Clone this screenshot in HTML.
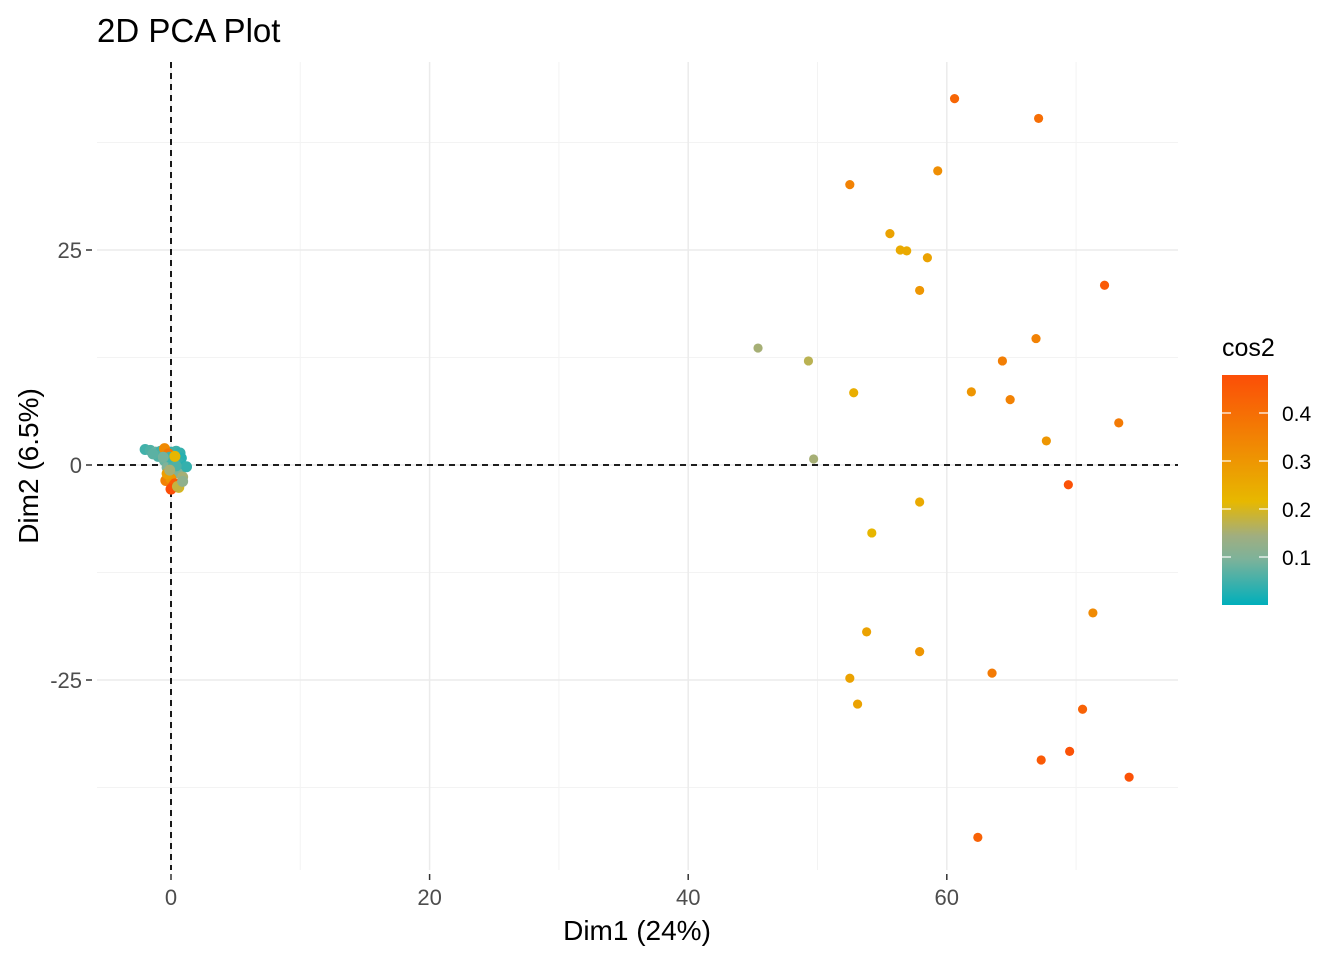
<!DOCTYPE html>
<html><head><meta charset="utf-8"><style>
body{margin:0;background:#fff;font-family:"Liberation Sans",sans-serif}
</style></head><body>
<svg id="chart" width="1344" height="960" xmlns="http://www.w3.org/2000/svg" font-family="Liberation Sans, sans-serif">
<defs><linearGradient id="cg" x1="0" y1="1" x2="0" y2="0">
<stop offset="0" stop-color="#00AFBB"/><stop offset="0.2" stop-color="#7db29a"/><stop offset="0.3" stop-color="#a0ae80"/><stop offset="0.45" stop-color="#E7B800"/><stop offset="1" stop-color="#FC4E07"/></linearGradient></defs>
<text x="97" y="42" font-size="33" fill="#000">2D PCA Plot</text>
<g id="grid"></g>
<g id="marks"></g>
<text x="637" y="940" font-size="28" text-anchor="middle">Dim1 (24%)</text>
<text transform="translate(38,466) rotate(-90)" font-size="28" text-anchor="middle">Dim2 (6.5%)</text>
<g>
<text x="1222" y="356" font-size="25">cos2</text>
<rect x="1222" y="375" width="46" height="230" fill="url(#cg)"/>
<g id="legticks"></g>
</g>
</svg>
<script>
const xTicks=[0,20,40,60];
const yTicks=[-25,0,25];
const legTicks=[0.1,0.2,0.3,0.4];
const farX=[60.6,67.1,59.3,52.5,55.6,56.4,56.9,58.5,57.9,72.2,45.4,49.3,66.9,64.3,52.8,61.9,64.9,73.3,67.7,49.7,69.4,57.9,54.2,71.3,53.8,57.9,63.5,52.5,53.1,70.5,69.5,67.3,74.1,62.4];
const farY=[42.6,40.3,34.2,32.6,26.9,25.0,24.9,24.1,20.3,20.9,13.6,12.1,14.7,12.1,8.4,8.5,7.6,4.9,2.8,0.7,-2.3,-4.3,-7.9,-17.2,-19.4,-21.7,-24.2,-24.8,-27.8,-28.4,-33.3,-34.3,-36.3,-43.3];
const farC=[0.42,0.40,0.32,0.35,0.27,0.25,0.25,0.27,0.30,0.45,0.15,0.17,0.35,0.36,0.24,0.30,0.35,0.37,0.30,0.15,0.47,0.25,0.22,0.33,0.27,0.30,0.37,0.27,0.27,0.43,0.47,0.45,0.47,0.43];
const nearX=[-2.0,-1.6,-1.2,-0.8,-0.4,0.0,0.4,0.7,0.8,-1.0,-0.5,0.2,0.6,1.0,-0.3,0.3,0.8,1.2,-0.2,0.1,0.5,0.9,-0.4,0.0,0.3,-0.5,-0.2,0.2,0.6,0.0,-0.3,0.2,0.5,-0.1,-1.4,-0.6,0.4,0.9,-0.1,0.3];
const nearY=[1.8,1.7,1.5,1.6,1.2,1.5,1.6,1.4,0.8,1.0,0.5,0.6,0.2,-0.2,-0.3,-0.5,-0.4,-0.2,-1.2,-1.0,-0.9,-1.4,-1.8,-1.6,-2.2,1.9,1.3,-2.4,-2.6,-2.8,-1.0,0.0,-2.5,0.9,1.3,0.9,-0.1,-1.9,-0.6,1.0];
const nearC=[0.05,0.06,0.08,0.05,0.40,0.04,0.05,0.04,0.03,0.06,0.08,0.05,0.04,0.03,0.10,0.05,0.03,0.04,0.25,0.20,0.10,0.15,0.35,0.30,0.45,0.33,0.38,0.45,0.20,0.48,0.28,0.06,0.18,0.05,0.07,0.09,0.06,0.12,0.15,0.22];
const X=v=>171+v*12.93, Y=v=>465-v*8.6, L=v=>605-v*480;
const ns="http://www.w3.org/2000/svg";
function mk(t,a,p){const e=document.createElementNS(ns,t);for(const k in a)e.setAttribute(k,a[k]);p.appendChild(e);return e;}
const g=document.getElementById('grid'), m=document.getElementById('marks'), lt=document.getElementById('legticks');
const stops=[[0,[0,175,187]],[0.096,[125,178,154]],[0.144,[160,174,128]],[0.216,[231,184,0]],[0.48,[252,78,7]]];
function col(c){c=Math.max(0,Math.min(0.48,c));
for(let i=0;i<stops.length-1;i++){if(c<=stops[i+1][0]){const f=(c-stops[i][0])/(stops[i+1][0]-stops[i][0]);const a=stops[i][1],b=stops[i+1][1];return`rgb(${a.map((v,j)=>Math.round(v+(b[j]-v)*f)).join(',')})`;}}return'rgb(252,78,7)';}
for(let v=10;v<=70;v+=20){const l=mk('line',{x1:X(v),x2:X(v),y1:62,y2:870,stroke:'#f3f3f3','stroke-width':1},g);}
for(let v=-37.5;v<=37.5;v+=25){const l=mk('line',{x1:97,x2:1178,y1:Y(v),y2:Y(v),stroke:'#f3f3f3','stroke-width':1},g);}
xTicks.forEach(v=>{const l=mk('line',{x1:X(v),x2:X(v),y1:62,y2:870,stroke:'#ebebeb','stroke-width':1.5},g);
const t=mk('text',{x:X(v),y:905,'font-size':22,'text-anchor':'middle',fill:'#4d4d4d'},g);t.textContent=v;});
yTicks.forEach(v=>{const l=mk('line',{x1:97,x2:1178,y1:Y(v),y2:Y(v),stroke:'#ebebeb','stroke-width':1.5},g);
const k=mk('line',{x1:86,x2:92,y1:Y(v),y2:Y(v),stroke:'#333','stroke-width':1.5},g);
const t=mk('text',{x:82,y:Y(v)+8,'font-size':22,'text-anchor':'end',fill:'#4d4d4d'},g);t.textContent=v;});
xTicks.forEach(v=>{const k=mk('line',{x1:X(v),x2:X(v),y1:874,y2:880,stroke:'#333','stroke-width':1.5},g);});
let h=mk('line',{x1:97,x2:1178,y1:Y(0),y2:Y(0),stroke:'#000','stroke-width':1.8,'stroke-dasharray':'6,5'},g);

let vl=mk('line',{x1:X(0),x2:X(0),y1:62,y2:870,stroke:'#000','stroke-width':1.8,'stroke-dasharray':'6,5'},g);

nearX.forEach((v,i)=>{const c=mk('circle',{cx:X(v),cy:Y(nearY[i]),r:5.5,fill:col(nearC[i])},m);});
farX.forEach((v,i)=>{const c=mk('circle',{cx:X(v),cy:Y(farY[i]),r:4.6,fill:col(farC[i])},m);});
legTicks.forEach(v=>{[[1222,1231],[1259,1268]].forEach(p=>{const k=mk('line',{x1:p[0],x2:p[1],y1:L(v),y2:L(v),stroke:'#fff','stroke-width':1.2},lt);});
const t=mk('text',{x:1282,y:L(v)+8,'font-size':21,fill:'#000'},lt);t.textContent=v.toFixed(1);});
</script>
</body></html>
